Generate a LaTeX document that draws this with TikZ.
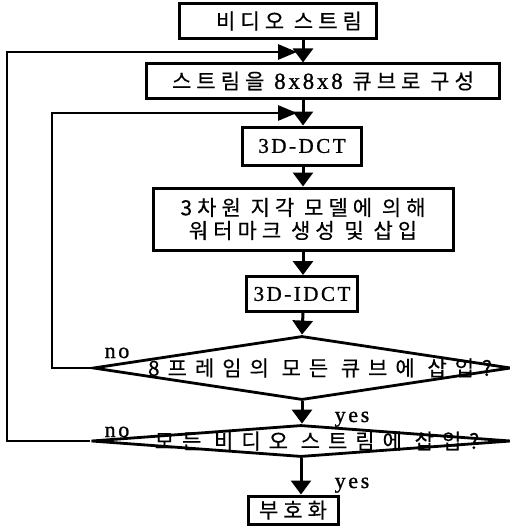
\documentclass[tikz,border=0pt]{standalone}
\usepackage{fontspec}
\setmainfont{Liberation Serif}[LetterSpace=12,FakeBold=1]
\newfontfamily\kor[LetterSpace=24,FakeBold=0.4]{Noto Sans CJK KR}
\newfontfamily\korwide[LetterSpace=38,FakeBold=0.4]{Noto Sans CJK KR}
\usepackage{tikz}
\usetikzlibrary{arrows.meta,shapes.geometric,positioning}
\tikzset{
  procbox/.style  = {draw, line width=3pt, inner sep=0pt,
                     font=\kor\fontsize{21}{23}\selectfont},
  serifbox/.style = {procbox, font=\rmfamily\fontsize{21}{22}\selectfont},
  decision/.style = {draw, diamond, line width=2.8pt, inner sep=0pt},
  asktext/.style  = {inner sep=0pt, font=\korwide\fontsize{21}{23}\selectfont},
  answer/.style   = {anchor=base, inner sep=0pt, font=\fontsize{22}{24}\selectfont},
  flow/.style     = {line width=3pt, -{Triangle[length=14pt,width=20pt]}},
  loop/.style     = {line width=2.8pt, -{Triangle[length=19pt,width=15pt]}},
}

\begin{document}
\begin{tikzpicture}[x=1pt,y=-1pt]
  \useasboundingbox (0,0) rectangle (509,527);
  % process boxes
  \node[procbox, minimum width=197pt, minimum height=35pt] (src) at (278,21) {};
  \node[procbox, draw=none] (srctxt) at (289,21) {비디오 스트림};
  \node[procbox, minimum width=353pt, minimum height=34pt] (cube) at (323,81)
    {스트림을 {\rmfamily\fontsize{23}{22}\selectfont 8x8x8} 큐브로 구성};
  \node[serifbox, minimum width=119pt, minimum height=38pt] (dct) at (302,146) {3D-DCT};
  \node[procbox, minimum width=300pt, minimum height=62pt, align=center] (embed) at (303,219)
    {3차원 지각 모델에 의해\\워터마크 생성 및 삽입};
  \node[serifbox, minimum width=111pt, minimum height=35pt] (idct) at (302,294) {3D-IDCT};
  % decisions
  \node[decision, minimum width=418pt, minimum height=64pt] (allcube) at (302,368) {};
  \node[asktext, xshift=18pt] (allcubetxt) at (allcube.center) {8프레임의 모든 큐브에 삽입?};
  \node[decision, minimum width=420pt, minimum height=32pt] (allstream) at (301,441) {};
  \node[asktext, xshift=16pt] (allstreamtxt) at (allstream.center) {모든 비디오 스트림에 삽입?};
  \node[procbox, minimum width=90pt, minimum height=28pt] (enc) at (293,510) {부호화};
  % join points of the loops
  \coordinate (joinout) at (297,52);
  \coordinate (joinin) at (297,113);
  % main flow
  \draw[flow] (src.south -| embed.center) -- (cube.north -| embed.center);
  \draw[flow] (cube.south -| embed.center) -- (dct.north -| embed.center);
  \draw[flow] (dct.south -| embed.center) -- (embed.north);
  \draw[flow] (embed.south) -- (idct.north -| embed.center);
  \draw[flow] (idct.south -| embed.center) -- (allcube.north);
  \draw[flow] (allcube.south) -- (allstream.north -| allcube.south);
  \draw[flow] (allstream.south) -- (enc.north -| allstream.south);
  % loops back
  \draw[loop] (allcube.west) -- (52,368) |- (joinin);
  \draw[loop] (allstream.west) -- (7,441) |- (joinout);
  % answers
  \node[answer] (no1) at (117,358) {no};
  \node[answer] (no2) at (117,437) {no};
  \node[answer] (yes1) at (352,422) {yes};
  \node[answer] (yes2) at (352,488) {yes};
\end{tikzpicture}
\end{document}
